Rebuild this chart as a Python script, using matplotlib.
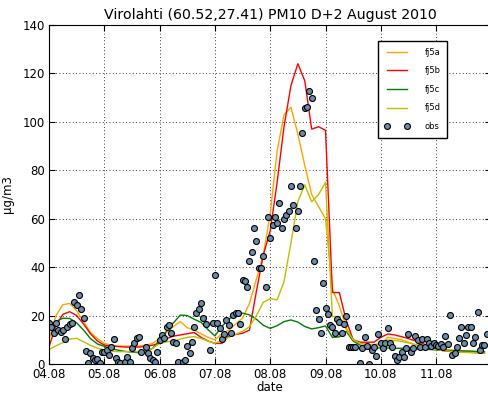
import numpy as np
import matplotlib
matplotlib.use("Agg")
import matplotlib.pyplot as plt

# model runs, 3-hourly values from 04.08 00:00
fj5a = [10, 20, 24.5, 25, 22, 17.5, 13, 10.5, 8.5, 7.8, 7.4, 7.4, 7.4, 7.4, 7.8, 8.5,
        10.5, 13, 15.5, 17.5, 15, 14, 12.5, 11, 10, 12.5, 14, 16.5, 19, 25, 35, 45,
        62, 88, 103, 106, 95, 82, 70, 65, 60, 31, 24, 15, 10, 8.5, 8, 8,
        8, 11, 10.5, 10, 9, 8, 7.5, 7, 6.5, 6, 5.8, 5.5, 5.3, 5.2, 5, 5]
fj5b = [7, 16, 20.5, 21.6, 20, 16.5, 12.5, 9.5, 7.8, 7.4, 7.2, 7, 6.9, 7, 7.3, 7.8,
        8.5, 10.5, 11.5, 12, 12.5, 13, 11, 9.5, 8.5, 8.5, 11.5, 12.2, 12.7, 14, 30, 45,
        55, 75, 98, 115, 124, 117, 97, 98, 96.5, 29.5, 29.5, 18, 10, 9, 9, 9,
        11, 12.4, 12, 11.3, 10.5, 9.5, 8.5, 7.5, 6, 5.5, 5.2, 5, 5, 4.8, 4.6, 4.5]
fj5c = [14, 17.5, 18.9, 18.8, 17, 14, 10.5, 8.3, 7.3, 6.4, 5.7, 5.2, 4.9, 4.7, 5.2, 6.5,
        9.9, 13.5, 17, 20.2, 20, 18.5, 17.2, 14.2, 11.6, 15.5, 18.5, 20.5, 21, 20.3, 18.5, 16,
        14.7, 15.8, 17.5, 18.2, 17.3, 15.5, 14.5, 15, 15.7, 11, 11.2, 13.5, 9.5, 7.8, 7, 6.7,
        6.6, 6.6, 6.5, 6.5, 6.3, 6.2, 6, 6, 5.8, 5.7, 5.6, 5.5, 5.4, 5.3, 5.2, 5]
fj5d = [6, 7.5, 8.8, 10.3, 10.6, 9.2, 7.7, 6.5, 5.8, 5.3, 5.1, 5.1, 5.1, 5.1, 5.3, 6.5,
        8.5, 9.1, 9.5, 10.3, 11, 11.3, 10.5, 9.5, 8.6, 9.7, 11, 12.3, 13.5, 15.4, 20, 25.5,
        27, 26.5, 34, 50, 67, 74, 67, 70, 75, 19.6, 19.6, 14.3, 10, 8.5, 8, 8,
        8.5, 10, 9.7, 9.3, 8.7, 8, 7.3, 6.5, 6, 5.6, 5.3, 5, 4.8, 4.7, 4.6, 4.5]

# hourly observations from 04.08 00:00 (nan = missing)
nan = np.nan
obs = [17, 15.4, 12.7, 16.8, 14, 13.4, 14, 10.3, 15.4, 16.4, 17, 25.5, 24.4, 28.5, 22.6, 18.9,
       5.5, 0.4, 4.4, 2.3, 1.7, 2, 0.5, 5.1,
       5.1, 5.8, 3.7, 7.2, 10.5, 2.3, 1, 0.4, nan, 1, 3, 1, 6.5, 8.5, 10.6, 11.3,
       5.1, nan, 7.2, 4.4, 2.3, 1.7, 1, 5.1,
       9.9, 12, 10.6, 15.4, 16.1, 12.7, 9.2, 8.8, 1, nan, 1, 1.7, 7.4, 4.4, 9.2, 15.1,
       21, 22.6, 25.3, 18.9, 16.5, nan, 5.8, 16.8,
       36.8, 16.8, 14.7, 10.2, 12.4, 18.2, 16.1, 12.7, 20.2, 21, 21.2, 16.5, 34.7, 34.4, 31.9, 42.7,
       46.4, 56, 51, 39.5, 39.5, 44.6, 31.7, 60.6,
       51.9, 57.4, 60.6, 58.4, 66.4, 56, 59.8, 61.5, 63, 73.5, 65.7, 56, 63, 73.6, 95.3, 105.9,
       106, 112.8, 110, 42.5, 22.3, 18.5, 12.9, 33.3,
       23, 20.6, 16.1, 15.4, 12.9, 18.5, 17.5, 12.9, 16.5, 19.8, 7.2, 7.2, 7.2, 7.2, 15.4, 0.5,
       6.5, 11, 7.6, 0, 5.8, 7.2, 3.3, 12.3,
       8.5, 6.5, 8.5, 14.7, 8.8, 7.2, 3.3, 1.7, 2.8, 5.1, 3, 6.5, 12.4, 5.1, 6.5, 11.6,
       9.9, 7.2, 10.2, 7.2, 10.2, 8.5, 7.6, 8.5,
       8, 7.6, 8.2, 7.2, 11.6, 8.2, 20.1, 3.7, 4.7, 7.2, 10.6, 15.4, 8.5, 12, 15.4, 15.4,
       8.5, 11.3, 21.6, 5.8, 7.8, 7.8, 12.4]

tick_labels = ["04.08", "05.08", "06.08", "07.08", "08.08", "09.08", "10.08", "11.08"]

t_model = np.arange(len(fj5a)) * 3 / 24.0
t_obs = np.arange(len(obs)) / 24.0

fig = plt.figure(figsize=(4.88, 3.94), dpi=100)
ax = fig.add_axes([49 / 488, 30 / 394, 442.4 / 488, 339 / 394])

ax.plot(t_model, fj5a, color="orange", lw=1, label="fj5a")
ax.plot(t_model, fj5b, color="red", lw=1, label="fj5b")
ax.plot(t_model, fj5c, color=(0, 0.5, 0), lw=1, label="fj5c")
ax.plot(t_model, fj5d, color=(0.75, 0.75, 0), lw=1, label="fj5d")
ax.plot(t_obs, obs, "o", ms=4.3, mfc="#6a8caa", mec="black", mew=0.8, label="obs")

ax.set_xlim(0, 8)
ax.set_ylim(0, 140)
ax.set_xticks(np.arange(len(tick_labels)))
ax.set_xticklabels(tick_labels)
ax.set_yticks(np.arange(0, 141, 20))
ax.tick_params(direction="in", top=True, right=True, labelsize=8.5, length=4, pad=3)
ax.grid(True, color="black", linestyle=(0, (1, 3)), linewidth=0.6)
ax.set_xlabel("date", fontsize=8.5, labelpad=0)
ax.set_ylabel("µg/m3", fontsize=8.5, labelpad=6)
ax.set_title("Virolahti (60.52,27.41) PM10 D+2 August 2010", fontsize=10.2, pad=4)

leg = ax.legend(loc="upper left", bbox_to_anchor=(378 / 488, 1 - 41 / 394),
                bbox_transform=fig.transFigure, fontsize=6, numpoints=2,
                handlelength=3.0, handletextpad=1.8, labelspacing=1.15,
                borderpad=0.8, fancybox=False, framealpha=1, borderaxespad=0)
leg.get_frame().set_edgecolor("black")
leg.get_frame().set_linewidth(1)

fig.savefig("out.png", dpi=100)
